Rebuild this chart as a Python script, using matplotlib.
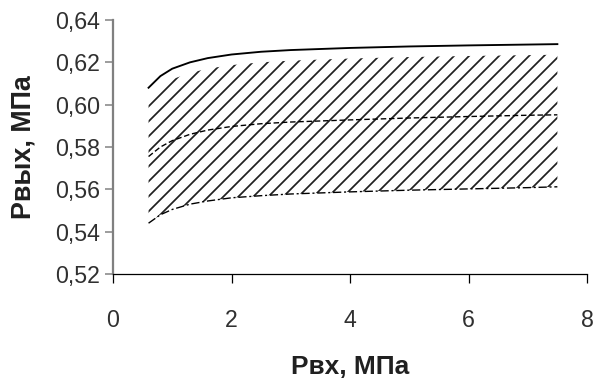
import matplotlib.pyplot as plt
import numpy as np

plt.rcParams['font.family'] = ['Liberation Sans', 'DejaVu Sans']
plt.rcParams['hatch.linewidth'] = 1.4

# давление на входе, МПа
p_vh = [0.6, 0.8, 1.0, 1.3, 1.6, 2.0, 2.5, 3.0, 4.0, 5.0, 6.0, 7.0, 7.5]
# давление на выходе: верхняя граница, среднее, нижняя граница
p_max = [0.608, 0.6135, 0.617, 0.620, 0.622, 0.6237, 0.6250, 0.6258, 0.6268, 0.6275, 0.6280, 0.6284, 0.6286]
p_sr = [0.5755, 0.580, 0.583, 0.586, 0.588, 0.5897, 0.5910, 0.5918, 0.5928, 0.5937, 0.5944, 0.5950, 0.5952]
p_min = [0.5440, 0.548, 0.5505, 0.553, 0.5545, 0.556, 0.557, 0.5578, 0.5588, 0.5596, 0.5602, 0.5608, 0.5612]

x_ticks = [0, 2, 4, 6, 8]
y_ticks = [0.52, 0.54, 0.56, 0.58, 0.60, 0.62, 0.64]

fig = plt.figure(figsize=(593 / 90, 383 / 90), dpi=90)
ax = fig.add_axes([113 / 593, 109 / 383, 474 / 593, 254 / 383])

# штриховка зоны между границами (чуть ниже верхней кривой)
zazor = 0.005
ax.fill_between(p_vh, p_min, np.array(p_max) - zazor, facecolor='none',
                edgecolor='#202020', hatch='//', linewidth=0)

ax.plot(p_vh, p_max, color='black', lw=1.5, ls='-')
ax.plot(p_vh, p_sr, color='black', lw=1.1, ls=(0, (4, 2)))
ax.plot(p_vh, p_min, color='black', lw=1.1, ls=(0, (6, 2, 1.5, 2)))

ax.set_xlim(0, 8)
ax.set_ylim(0.52, 0.64)
ax.set_xticks(x_ticks)
ax.set_yticks(y_ticks)
ax.set_xticklabels([str(t) for t in x_ticks])
ax.set_yticklabels([f'{t:.2f}'.replace('.', ',') for t in y_ticks])

ax.spines['top'].set_visible(False)
ax.spines['right'].set_visible(False)
ax.spines['left'].set_color('#808080')
ax.spines['left'].set_linewidth(1.8)
ax.spines['bottom'].set_linewidth(1.0)
ax.tick_params(axis='x', direction='out', length=7, width=1.0, labelsize=18.5, pad=21,
               colors='black', labelcolor='#303030')
ax.tick_params(axis='y', direction='out', length=6.4, width=1.2, labelsize=18.5, pad=4,
               color='#808080', labelcolor='#303030')

ax.set_xlabel('Рвх, МПа', fontsize=21, fontweight='bold', labelpad=18, color='#202020')
ax.set_ylabel('Рвых, МПа', fontsize=21.5, fontweight='bold', labelpad=15, color='#202020')

fig.savefig('out.png', dpi=90)
